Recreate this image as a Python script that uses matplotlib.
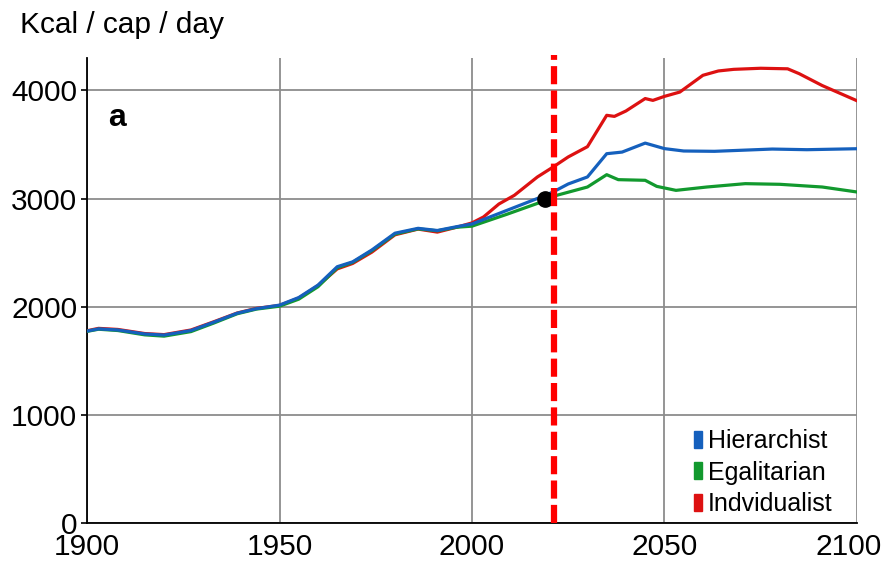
import matplotlib.pyplot as plt
import matplotlib.transforms as mtransforms
from matplotlib.patches import Patch

plt.rcParams['font.family'] = ['Liberation Sans', 'DejaVu Sans']

# kcal per capita per day
years_hist = [1900, 1903, 1908, 1915, 1920, 1927, 1933, 1939, 1944, 1950,
              1955, 1960, 1965, 1969, 1974, 1980, 1986, 1991, 1996, 2000]
hier_hist = [1775, 1795, 1785, 1748, 1738, 1780, 1858, 1940, 1982, 2015,
             2085, 2200, 2370, 2415, 2525, 2680, 2725, 2705, 2740, 2765]
egal_hist = [1772, 1792, 1780, 1740, 1728, 1770, 1850, 1935, 1978, 2005,
             2070, 2185, 2360, 2410, 2518, 2672, 2720, 2702, 2735, 2745]
indv_hist = [1778, 1800, 1790, 1752, 1742, 1785, 1862, 1942, 1985, 2012,
             2080, 2195, 2350, 2400, 2505, 2665, 2718, 2690, 2735, 2775]

years_hier = [2009, 2018, 2021, 2025, 2030, 2035, 2039, 2045, 2050, 2055,
              2063, 2078, 2087, 2100]
hier_fut = [2890, 3015, 3060, 3135, 3200, 3415, 3430, 3513, 3462, 3440,
            3437, 3458, 3452, 3461]

years_egal = [2009, 2018, 2022, 2030, 2035, 2038, 2045, 2048, 2053, 2061,
              2071, 2080, 2091, 2100]
egal_fut = [2854, 2968, 3030, 3107, 3221, 3175, 3169, 3113, 3076, 3107,
            3138, 3132, 3107, 3061]

years_indv = [2003, 2007, 2011, 2017, 2021, 2025, 2030, 2035, 2037, 2040,
              2045, 2047, 2050, 2054, 2060, 2064, 2068, 2075, 2082, 2085,
              2091, 2100]
indv_fut = [2830, 2950, 3030, 3200, 3290, 3385, 3480, 3770, 3760, 3810,
            3925, 3908, 3945, 3985, 4140, 4180, 4195, 4205, 4200, 4155,
            4045, 3905]

now_year = 2021.3
dot_year, dot_value = 2019, 3000

c_hier = '#1560bd'
c_egal = '#12992e'
c_indv = '#dd1111'

fig = plt.figure(figsize=(8.89, 5.63), dpi=100)
ax = fig.add_axes([0.0979, 0.071, 0.866, 0.826])

ax.plot(years_hist + years_indv, indv_hist + indv_fut, color=c_indv, lw=2.3, zorder=3)
ax.plot(years_hist + years_egal, egal_hist + egal_fut, color=c_egal, lw=2.3, zorder=4)
ax.plot(years_hist + years_hier, hier_hist + hier_fut, color=c_hier, lw=2.3, zorder=5)

ax.plot([dot_year], [dot_value], 'o', color='black', ms=11, zorder=6)
ax.axvline(now_year, ymin=0, ymax=1.007, color='#ff0000', lw=4.5,
           dashes=(2.9, 1.0), zorder=7, clip_on=False)

ax.set_xlim(1900, 2100)
ax.set_ylim(0, 4300)
ax.set_xticks([1900, 1950, 2000, 2050, 2100])
ax.set_yticks([0, 1000, 2000, 3000, 4000])
ax.grid(True, color='#8c8c8c', lw=1.3)
ax.set_axisbelow(True)
for s in ['top', 'right']:
    ax.spines[s].set_visible(False)
for s in ['left', 'bottom']:
    ax.spines[s].set_linewidth(1.3)
ax.tick_params(labelsize=21.5, length=4, width=1.2, pad=3)
ax.tick_params(axis='x', length=0, pad=7)

# last x label sits a bit left in the reference
last = ax.get_xticklabels()[-1]
last.set_transform(last.get_transform() +
                   mtransforms.ScaledTranslation(-0.08, 0, fig.dpi_scale_trans))

ax.text(0.027, 0.87, 'a', transform=ax.transAxes, fontsize=23, fontweight='bold',
        va='center', ha='left')
fig.text(0.022, 0.9414, 'Kcal / cap / day', fontsize=21.5, va='baseline', ha='left')

handles = [Patch(color=c_hier), Patch(color=c_egal), Patch(color=c_indv)]
labels = ['Hierarchist', 'Egalitarian', 'Indvidualist']
ax.legend(handles, labels, loc='upper left', bbox_to_anchor=(0.788, 0.202),
          frameon=False, fontsize=18, borderpad=0, borderaxespad=0,
          handlelength=0.32, handleheight=0.68, handletextpad=0.24,
          labelspacing=0.3)

fig.savefig('out.png', dpi=100)
